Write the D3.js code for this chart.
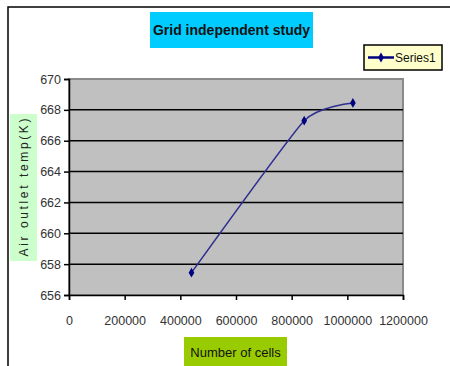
<!DOCTYPE html>
<html>
<head>
<meta charset="utf-8">
<script src="https://cdn.jsdelivr.net/npm/d3@7"></script>
<style>
  html, body { margin: 0; padding: 0; background: #fff; }
  svg { display: block; }
  text { font-family: "Liberation Sans Narrow", "Arial Narrow", "Liberation Sans", Arial, sans-serif; }
</style>
</head>
<body>
<script>
// Grid independence study: outlet temperature vs mesh size
const cellCounts = [440000, 845000, 1020000];
const outletTemps = [657.45, 667.3, 668.45];
const seriesName = "Series1";
const xTickValues = [0, 200000, 400000, 600000, 800000, 1000000, 1200000];
const yTickValues = [656, 658, 660, 662, 664, 666, 668, 670];

const W = 450, H = 366;
const plot = { left: 69, right: 403, top: 79, bottom: 295 };

const svg = d3.select("body").append("svg").attr("width", W).attr("height", H);

// chart frame
svg.append("rect")
  .attr("x", 8).attr("y", 7).attr("width", W + 10).attr("height", H + 10)
  .attr("fill", "#fff").attr("stroke", "#000").attr("stroke-width", 1.5);

const x = d3.scaleLinear().domain([0, 1200000]).range([plot.left, plot.right]);
const y = d3.scaleLinear().domain([656, 670]).range([plot.bottom, plot.top]);

// plot area
svg.append("rect")
  .attr("x", plot.left).attr("y", plot.top)
  .attr("width", plot.right - plot.left).attr("height", plot.bottom - plot.top)
  .attr("fill", "#c0c0c0").attr("stroke", "#8a8a8a").attr("stroke-width", 2);

// horizontal gridlines
svg.append("g").selectAll("line")
  .data(yTickValues.filter(v => v > 656 && v < 670))
  .join("line")
  .attr("x1", plot.left).attr("x2", plot.right)
  .attr("y1", d => y(d)).attr("y2", d => y(d))
  .attr("stroke", "#000").attr("stroke-width", 1.5);

// y axis
const yAxis = svg.append("g")
  .attr("transform", `translate(${plot.left},0)`)
  .call(d3.axisLeft(y).tickValues(yTickValues).tickSize(5).tickPadding(3).tickFormat(d3.format("d")));
yAxis.select(".domain").attr("stroke", "#000").attr("stroke-width", 1.5);
yAxis.selectAll(".tick line").attr("stroke", "#000").attr("stroke-width", 1.5);
yAxis.selectAll("text").attr("font-size", 12.5).attr("fill", "#333");

// x axis
const xAxis = svg.append("g")
  .attr("transform", `translate(0,${plot.bottom})`)
  .call(d3.axisBottom(x).tickValues(xTickValues).tickSize(5).tickPadding(16).tickFormat(d3.format("d")));
xAxis.select(".domain").attr("stroke", "#000").attr("stroke-width", 1.5);
xAxis.selectAll(".tick line").attr("stroke", "#000").attr("stroke-width", 1.5);
xAxis.selectAll("text").attr("font-size", 12.5).attr("fill", "#333");

// smoothed data series
const pts = cellCounts.map((c, i) => [c, outletTemps[i]]);
const line = d3.line().x(d => x(d[0])).y(d => y(d[1])).curve(d3.curveCardinal.tension(0.5));
svg.append("path")
  .attr("d", line(pts))
  .attr("fill", "none").attr("stroke", "#2e2e90").attr("stroke-width", 1.5);

const diamond = d3.symbol().type(d3.symbolDiamond).size(28);
svg.append("g").selectAll("path")
  .data(pts)
  .join("path")
  .attr("transform", d => `translate(${x(d[0])},${y(d[1])})`)
  .attr("d", diamond)
  .attr("fill", "#000080");

// title
svg.append("rect").attr("x", 150).attr("y", 12).attr("width", 163).attr("height", 36).attr("fill", "#00ccff");
svg.append("text")
  .attr("x", 231.5).attr("y", 35).attr("text-anchor", "middle")
  .attr("font-size", 14).attr("font-weight", "bold").attr("fill", "#111")
  .text("Grid independent study");

// legend
svg.append("rect").attr("x", 364).attr("y", 45).attr("width", 78).attr("height", 25)
  .attr("fill", "#ffffcc").attr("stroke", "#000").attr("stroke-width", 1.5);
svg.append("line").attr("x1", 368).attr("x2", 394).attr("y1", 57.5).attr("y2", 57.5)
  .attr("stroke", "#000080").attr("stroke-width", 2.5);
svg.append("path").attr("transform", "translate(381,57.5)").attr("d", diamond).attr("fill", "#000080");
svg.append("text").attr("x", 395).attr("y", 61.5).attr("font-size", 12).attr("fill", "#111").text(seriesName);

// y axis title
svg.append("rect").attr("x", 10).attr("y", 114).attr("width", 27).attr("height", 147).attr("fill", "#ccffcc");
svg.append("text")
  .attr("transform", "translate(28,187.5) rotate(-90)")
  .attr("text-anchor", "middle").attr("font-size", 12).attr("fill", "#222")
  .attr("font-family", "'Liberation Sans', Arial, sans-serif")
  .attr("textLength", 138).attr("lengthAdjust", "spacing")
  .text("Air outlet temp(K)");

// x axis title
svg.append("rect").attr("x", 184).attr("y", 337).attr("width", 103).attr("height", 30).attr("fill", "#99cc00");
svg.append("text")
  .attr("x", 235.5).attr("y", 357).attr("text-anchor", "middle")
  .attr("font-size", 13).attr("fill", "#111")
  .text("Number of cells");
</script>
</body>
</html>
